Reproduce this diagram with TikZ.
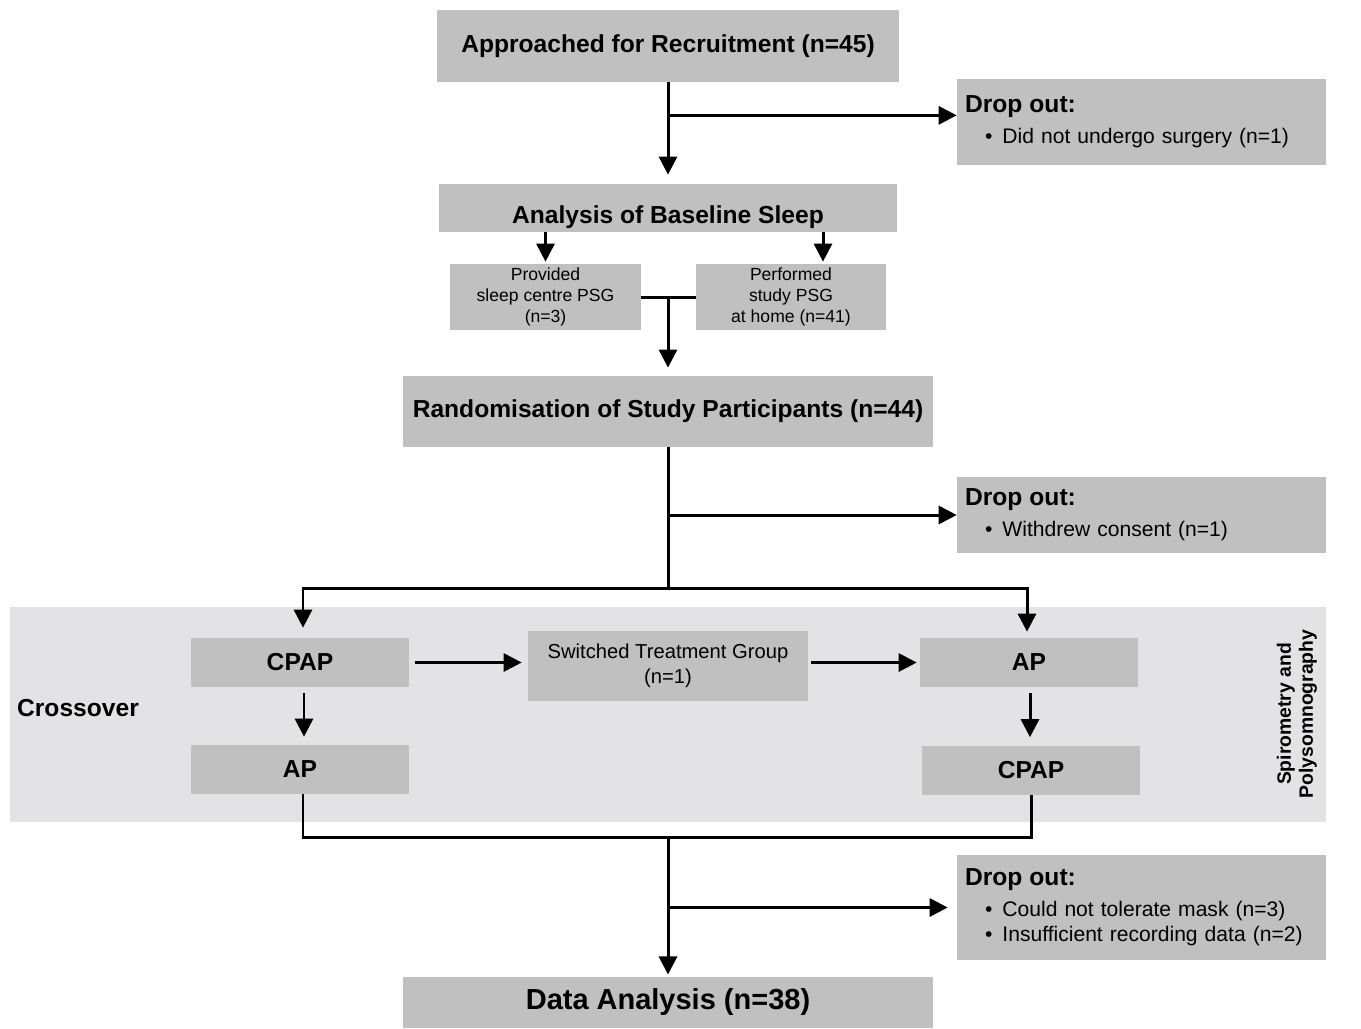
\documentclass[tikz,border=0pt]{standalone}
\usepackage{fontspec}
\setmainfont{Liberation Sans}
\usetikzlibrary{arrows.meta,positioning}
\definecolor{boxgray}{RGB}{192,192,192}
\definecolor{panelgray}{RGB}{227,227,229}
\tikzstyle{block} = [fill=boxgray, rectangle, inner sep=0pt,
    font=\fontsize{14}{16}\selectfont\bfseries]
\tikzstyle{smallblock} = [fill=boxgray, rectangle, inner sep=0pt, align=center,
    minimum width=3.8cm, minimum height=1.32cm, font=\fontsize{10}{12}\selectfont]
\tikzstyle{dropblock} = [fill=boxgray, rectangle, inner xsep=0.16cm, inner ysep=0pt,
    text width=7.06cm, align=left, font=\fontsize{12}{14.5}\selectfont]
\tikzstyle{armblock} = [block, minimum width=4.36cm, minimum height=0.98cm]
\tikzstyle{line} = [draw, line width=1.7pt]
\newcommand{\dropitem}[1]{\hspace*{0.4cm}\textbullet\hspace{0.2cm}#1}
\newcommand{\dropout}{{\fontsize{14}{16}\selectfont\bfseries Drop out:}}

\begin{document}
\begin{tikzpicture}[x=0.02cm, y=-0.02cm, node distance=2cm,
    >={Triangle[length=0.36cm,width=0.36cm]}]
    \useasboundingbox (0,0) rectangle (1361,1028);
    % crossover panel
    \fill[panelgray] (10,607) rectangle (1326,822);
    \node [font=\fontsize{14}{16}\selectfont\bfseries] (xover) at (78,708) {Crossover};
    \node [rotate=90, align=center, font=\fontsize{11}{12.5}\selectfont\bfseries]
        (tests) at (1297,714) {Spirometry and\\Polysomnography};
    % main chain
    \node [block, minimum width=9.24cm, minimum height=1.44cm] (appr) at (668,46)
        {Approached for Recruitment (n=45)};
    \node [block, below of=appr, node distance=3.24cm, text height=0.72cm,
            minimum width=9.16cm, minimum height=0.96cm] (anal) {Analysis of Baseline Sleep};
    \node [block, below of=anal, node distance=4.07cm,
            minimum width=10.62cm, minimum height=1.42cm] (rand)
        {Randomisation of Study Participants (n=44)};
    \node [block, below of=rand, node distance=11.82cm,
            minimum width=10.6cm, minimum height=1.02cm,
            font=\fontsize{16.5}{18}\selectfont\bfseries] (data) {Data Analysis (n=38)};
    \node [smallblock, minimum width=3.82cm] (prov) at (545.5,297)
        {Provided\\sleep centre PSG\\(n=3)};
    \node [smallblock] (perf) at (791,297) {Performed\\study PSG\\at home (n=41)};
    % drop outs
    \node [dropblock, minimum height=1.72cm] (drop1) at (1141.5,122)
        {\dropout\\[3pt] \dropitem{Did not undergo surgery (n=1)}};
    \node [dropblock, minimum height=1.52cm] (drop2) at (1141.5,515)
        {\dropout\\[3pt] \dropitem{Withdrew consent (n=1)}};
    \node [dropblock, minimum height=2.1cm] (drop3) at (1141.5,907.5)
        {\dropout\\[3pt] \dropitem{Could not tolerate mask (n=3)}\\
         \dropitem{Insufficient recording data (n=2)}};
    % crossover arms
    \node [armblock] (cpapL) at (300,662.5) {CPAP};
    \node [armblock, below of=cpapL, node distance=2.14cm] (apL) {AP};
    \node [fill=boxgray, inner sep=0pt, align=center, minimum width=5.6cm,
            minimum height=1.4cm, font=\fontsize{11.5}{14}\selectfont] (switch) at (668,666)
        {Switched Treatment Group\\(n=1)};
    \node [armblock] (apR) at (1029,662.5) {AP};
    \node [armblock] (cpapR) at (1031,770) {CPAP};
    % connectors
    \draw [->,line,shorten >=0.18cm] (appr.south) -- (anal.north);
    \draw [->,line] (appr.south) ++(0,-0.66cm) coordinate (b1) -- (b1 -| drop1.west);
    \draw [->,line,shorten >=0.04cm] (prov.north |- anal.south) -- (prov.north);
    \draw [->,line,shorten >=0.04cm] ([xshift=0.64cm]perf.north |- anal.south) -- ([xshift=0.64cm]perf.north);
    \draw [line] (prov.east) -- (perf.west);
    \draw [->,line,shorten >=0.16cm] (prov.east -| rand.north) -- (rand.north);
    \draw [line] (rand.south) -- ++(0,-2.82cm) coordinate (split);
    \draw [->,line] (rand.south |- drop2.west) -- (drop2.west);
    \draw [->,line,shorten >=0.2cm] (split) -| ([xshift=0.06cm]cpapL.north);
    \draw [->,line,shorten >=0.12cm] (split) -| ([xshift=-0.04cm]apR.north);
    \draw [->,line,shorten <=0.12cm,shorten >=0.16cm] ([xshift=0.08cm]cpapL.south) -- ([xshift=0.08cm]apL.north);
    \draw [->,line,shorten <=0.12cm,shorten >=0.12cm] (cpapL.east) -- (cpapL.east -| switch.west);
    \draw [->,line,shorten <=0.06cm,shorten >=0.06cm] (apR.west -| switch.east) -- (apR.west);
    \draw [->,line,shorten <=0.12cm,shorten >=0.16cm] ([xshift=0.02cm]apR.south) -- ([xshift=-0.02cm]cpapR.north);
    \draw [line] ([xshift=0.06cm]apL.south) -- ++(0,-0.86cm) coordinate (join) -| (cpapR.south);
    \draw [->,line,shorten >=0.04cm] (join -| data.north) -- (data.north);
    \draw [->,line,shorten >=0.18cm] (data.north |- drop3.west) -- (drop3.west);
\end{tikzpicture}
\end{document}
